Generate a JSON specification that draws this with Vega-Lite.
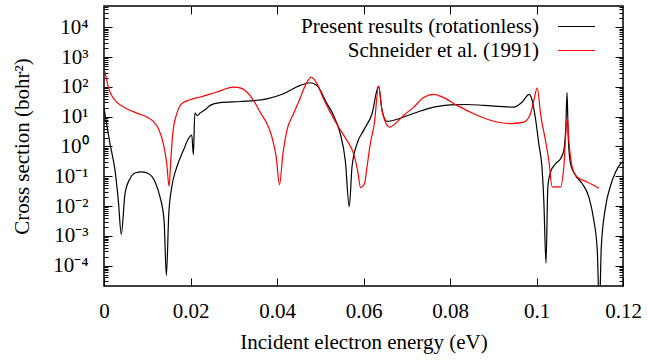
{
  "$schema": "https://vega.github.io/schema/vega-lite/v6.json",
  "width": 519,
  "height": 280,
  "autosize": {"type": "none"},
  "padding": {"left": 104, "top": 6, "right": 25, "bottom": 76},
  "background": "white",
  "config": {
    "view": {"stroke": "#000", "strokeWidth": 1.5},
    "font": "Liberation Serif",
    "axis": {
      "labelFont": "Liberation Serif",
      "titleFont": "Liberation Serif",
      "labelColor": "#000",
      "titleColor": "#000",
      "domain": false,
      "tickColor": "#000",
      "tickWidth": 1,
      "grid": false,
      "titleFontWeight": "normal",
      "labelFontSize": 21,
      "titleFontSize": 21
    },
    "legend": {"labelFont": "Liberation Serif", "labelColor": "#000"}
  },
  "datasets": {
    "curves": [
      {"series": "a", "energy": 0.0, "sigma": 19.05},
      {"series": "a", "energy": 0.00139, "sigma": 1.23},
      {"series": "a", "energy": 0.00255, "sigma": 0.158},
      {"series": "a", "energy": 0.00331, "sigma": 0.0155},
      {"series": "a", "energy": 0.004, "sigma": 0.00112},
      {"series": "a", "energy": 0.00486, "sigma": 0.0263},
      {"series": "a", "energy": 0.00602, "sigma": 0.0832},
      {"series": "a", "energy": 0.00718, "sigma": 0.129},
      {"series": "a", "energy": 0.00873, "sigma": 0.141},
      {"series": "a", "energy": 0.01025, "sigma": 0.123},
      {"series": "a", "energy": 0.01181, "sigma": 0.0646},
      {"series": "a", "energy": 0.01296, "sigma": 0.02},
      {"series": "a", "energy": 0.01389, "sigma": 0.00331},
      {"series": "a", "energy": 0.01442, "sigma": 0.0000468},
      {"series": "a", "energy": 0.01498, "sigma": 0.0055},
      {"series": "a", "energy": 0.01567, "sigma": 0.0437},
      {"series": "a", "energy": 0.01683, "sigma": 0.204},
      {"series": "a", "energy": 0.01836, "sigma": 0.741},
      {"series": "a", "energy": 0.01951, "sigma": 1.82},
      {"series": "a", "energy": 0.0203, "sigma": 2.4},
      {"series": "a", "energy": 0.02067, "sigma": 0.525},
      {"series": "a", "energy": 0.021, "sigma": 13.2},
      {"series": "a", "energy": 0.02153, "sigma": 11.0},
      {"series": "a", "energy": 0.02222, "sigma": 13.2},
      {"series": "a", "energy": 0.02338, "sigma": 17.0},
      {"series": "a", "energy": 0.02454, "sigma": 24.0},
      {"series": "a", "energy": 0.02685, "sigma": 29.5},
      {"series": "a", "energy": 0.03148, "sigma": 32.4},
      {"series": "a", "energy": 0.03766, "sigma": 39.8},
      {"series": "a", "energy": 0.0415, "sigma": 58.9},
      {"series": "a", "energy": 0.04537, "sigma": 112},
      {"series": "a", "energy": 0.04769, "sigma": 138},
      {"series": "a", "energy": 0.04924, "sigma": 112},
      {"series": "a", "energy": 0.05155, "sigma": 27.5},
      {"series": "a", "energy": 0.05308, "sigma": 11.0},
      {"series": "a", "energy": 0.05463, "sigma": 2.69},
      {"series": "a", "energy": 0.05579, "sigma": 0.339},
      {"series": "a", "energy": 0.05671, "sigma": 0.00955},
      {"series": "a", "energy": 0.05734, "sigma": 0.204},
      {"series": "a", "energy": 0.0585, "sigma": 1.23},
      {"series": "a", "energy": 0.06002, "sigma": 3.47},
      {"series": "a", "energy": 0.06197, "sigma": 12.6},
      {"series": "a", "energy": 0.0635, "sigma": 107},
      {"series": "a", "energy": 0.06428, "sigma": 16.2},
      {"series": "a", "energy": 0.06544, "sigma": 6.92},
      {"series": "a", "energy": 0.06697, "sigma": 7.59},
      {"series": "a", "energy": 0.06928, "sigma": 9.77},
      {"series": "a", "energy": 0.07238, "sigma": 14.1},
      {"series": "a", "energy": 0.07623, "sigma": 20.9},
      {"series": "a", "energy": 0.08009, "sigma": 25.1},
      {"series": "a", "energy": 0.08396, "sigma": 25.7},
      {"series": "a", "energy": 0.0878, "sigma": 24.0},
      {"series": "a", "energy": 0.09475, "sigma": 20.9},
      {"series": "a", "energy": 0.09669, "sigma": 30.9},
      {"series": "a", "energy": 0.09831, "sigma": 56.2},
      {"series": "a", "energy": 0.099, "sigma": 35.5},
      {"series": "a", "energy": 0.09977, "sigma": 8.51},
      {"series": "a", "energy": 0.10053, "sigma": 1.23},
      {"series": "a", "energy": 0.10132, "sigma": 0.158},
      {"series": "a", "energy": 0.10169, "sigma": 0.0155},
      {"series": "a", "energy": 0.1022, "sigma": 0.00012},
      {"series": "a", "energy": 0.10262, "sigma": 0.0437},
      {"series": "a", "energy": 0.10324, "sigma": 0.138},
      {"series": "a", "energy": 0.1044, "sigma": 0.263},
      {"series": "a", "energy": 0.10556, "sigma": 0.389},
      {"series": "a", "energy": 0.10632, "sigma": 0.741},
      {"series": "a", "energy": 0.10678, "sigma": 4.47},
      {"series": "a", "energy": 0.10706, "sigma": 64.6},
      {"series": "a", "energy": 0.10734, "sigma": 2.09},
      {"series": "a", "energy": 0.10787, "sigma": 0.263},
      {"series": "a", "energy": 0.10903, "sigma": 0.107},
      {"series": "a", "energy": 0.11058, "sigma": 0.0562},
      {"series": "a", "energy": 0.11211, "sigma": 0.02},
      {"series": "a", "energy": 0.11326, "sigma": 0.00331},
      {"series": "a", "energy": 0.11405, "sigma": 0.000324},
      {"series": "a", "energy": 0.11454, "sigma": 0.00000316},
      {"series": "a", "energy": 0.11498, "sigma": 0.000417},
      {"series": "a", "energy": 0.11597, "sigma": 0.00933},
      {"series": "a", "energy": 0.11713, "sigma": 0.049},
      {"series": "a", "energy": 0.11829, "sigma": 0.138},
      {"series": "a", "energy": 0.11944, "sigma": 0.263},
      {"series": "a", "energy": 0.12, "sigma": 0.316},
      {"series": "b", "energy": 0.00023, "sigma": 331},
      {"series": "b", "energy": 0.001, "sigma": 97.7},
      {"series": "b", "energy": 0.00178, "sigma": 51.3},
      {"series": "b", "energy": 0.00294, "sigma": 30.9},
      {"series": "b", "energy": 0.00525, "sigma": 18.6},
      {"series": "b", "energy": 0.00757, "sigma": 13.2},
      {"series": "b", "energy": 0.00988, "sigma": 9.77},
      {"series": "b", "energy": 0.01141, "sigma": 6.92},
      {"series": "b", "energy": 0.01257, "sigma": 3.98},
      {"series": "b", "energy": 0.01373, "sigma": 1.23},
      {"series": "b", "energy": 0.01451, "sigma": 0.263},
      {"series": "b", "energy": 0.01505, "sigma": 0.0457},
      {"series": "b", "energy": 0.01544, "sigma": 0.339},
      {"series": "b", "energy": 0.0159, "sigma": 2.69},
      {"series": "b", "energy": 0.01683, "sigma": 12.6},
      {"series": "b", "energy": 0.01799, "sigma": 27.5},
      {"series": "b", "energy": 0.01991, "sigma": 37.2},
      {"series": "b", "energy": 0.02222, "sigma": 45.7},
      {"series": "b", "energy": 0.02609, "sigma": 67.6},
      {"series": "b", "energy": 0.02993, "sigma": 97.7},
      {"series": "b", "energy": 0.03148, "sigma": 93.3},
      {"series": "b", "energy": 0.03303, "sigma": 67.6},
      {"series": "b", "energy": 0.03456, "sigma": 35.5},
      {"series": "b", "energy": 0.03611, "sigma": 14.1},
      {"series": "b", "energy": 0.03766, "sigma": 5.89},
      {"series": "b", "energy": 0.03882, "sigma": 2.09},
      {"series": "b", "energy": 0.03981, "sigma": 0.447},
      {"series": "b", "energy": 0.04058, "sigma": 0.0525},
      {"series": "b", "energy": 0.04137, "sigma": 0.575},
      {"series": "b", "energy": 0.04229, "sigma": 3.47},
      {"series": "b", "energy": 0.04382, "sigma": 12.6},
      {"series": "b", "energy": 0.04537, "sigma": 42.7},
      {"series": "b", "energy": 0.04653, "sigma": 112},
      {"series": "b", "energy": 0.04792, "sigma": 214},
      {"series": "b", "energy": 0.04924, "sigma": 129},
      {"series": "b", "energy": 0.05076, "sigma": 39.8},
      {"series": "b", "energy": 0.05231, "sigma": 14.1},
      {"series": "b", "energy": 0.05424, "sigma": 4.47},
      {"series": "b", "energy": 0.05618, "sigma": 1.58},
      {"series": "b", "energy": 0.05771, "sigma": 0.575},
      {"series": "b", "energy": 0.05863, "sigma": 0.158},
      {"series": "b", "energy": 0.05933, "sigma": 0.0417},
      {"series": "b", "energy": 0.06019, "sigma": 0.0537},
      {"series": "b", "energy": 0.06081, "sigma": 0.204},
      {"series": "b", "energy": 0.06157, "sigma": 1.23},
      {"series": "b", "energy": 0.0625, "sigma": 5.89},
      {"series": "b", "energy": 0.0635, "sigma": 105},
      {"series": "b", "energy": 0.06428, "sigma": 16.2},
      {"series": "b", "energy": 0.06505, "sigma": 6.61},
      {"series": "b", "energy": 0.06604, "sigma": 4.47},
      {"series": "b", "energy": 0.06736, "sigma": 5.89},
      {"series": "b", "energy": 0.06928, "sigma": 11.0},
      {"series": "b", "energy": 0.0716, "sigma": 20.9},
      {"series": "b", "energy": 0.07391, "sigma": 43.7},
      {"series": "b", "energy": 0.07623, "sigma": 56.2},
      {"series": "b", "energy": 0.07854, "sigma": 43.7},
      {"series": "b", "energy": 0.08164, "sigma": 24.0},
      {"series": "b", "energy": 0.08549, "sigma": 12.6},
      {"series": "b", "energy": 0.08935, "sigma": 7.59},
      {"series": "b", "energy": 0.09398, "sigma": 5.89},
      {"series": "b", "energy": 0.09706, "sigma": 6.61},
      {"series": "b", "energy": 0.09861, "sigma": 12.6},
      {"series": "b", "energy": 0.09938, "sigma": 35.5},
      {"series": "b", "energy": 0.10019, "sigma": 93.3},
      {"series": "b", "energy": 0.10093, "sigma": 12.6},
      {"series": "b", "energy": 0.10208, "sigma": 1.58},
      {"series": "b", "energy": 0.10285, "sigma": 0.339},
      {"series": "b", "energy": 0.10363, "sigma": 0.0437},
      {"series": "b", "energy": 0.10556, "sigma": 0.0437},
      {"series": "b", "energy": 0.10632, "sigma": 0.204},
      {"series": "b", "energy": 0.10711, "sigma": 9.55},
      {"series": "b", "energy": 0.10748, "sigma": 1.58},
      {"series": "b", "energy": 0.10826, "sigma": 0.204},
      {"series": "b", "energy": 0.10942, "sigma": 0.0933},
      {"series": "b", "energy": 0.11174, "sigma": 0.0646},
      {"series": "b", "energy": 0.11442, "sigma": 0.0398}
    ]
  },
  "data": {"name": "curves"},
  "layer": [
    {
      "mark": {"type": "line", "clip": true, "interpolate": "monotone", "strokeWidth": 1.2},
      "encoding": {
        "x": {
          "field": "energy", "type": "quantitative",
          "scale": {"domain": [0, 0.12], "nice": false, "zero": false},
          "axis": {"orient": "bottom", "values": [0, 0.02, 0.04, 0.06, 0.08, 0.1, 0.12],
                   "labelExpr": "'' + round(datum.value * 100) / 100",
                   "labelFlush": false, "labelOverlap": false, "labelBound": false,
                   "tickSize": -8, "labelPadding": 22, "title": "Incident electron energy (eV)", "titlePadding": 10}
        },
        "y": {
          "field": "sigma", "type": "quantitative",
          "scale": {"type": "log", "domain": [0.0000207, 52000], "nice": false},
          "axis": {"orient": "left",
                   "values": [0.00003, 0.00004, 0.00005, 0.00006, 0.00007, 0.00008, 0.00009,
                              0.0001, 0.0002, 0.0003, 0.0004, 0.0005, 0.0006, 0.0007, 0.0008, 0.0009,
                              0.001, 0.002, 0.003, 0.004, 0.005, 0.006, 0.007, 0.008, 0.009,
                              0.01, 0.02, 0.03, 0.04, 0.05, 0.06, 0.07, 0.08, 0.09,
                              0.1, 0.2, 0.3, 0.4, 0.5, 0.6, 0.7, 0.8, 0.9,
                              1, 2, 3, 4, 5, 6, 7, 8, 9,
                              10, 20, 30, 40, 50, 60, 70, 80, 90,
                              100, 200, 300, 400, 500, 600, 700, 800, 900,
                              1000, 2000, 3000, 4000, 5000, 6000, 7000, 8000, 9000,
                              10000, 20000, 30000, 40000, 50000],
                   "labelOverlap": false, "labelFlush": false,
                   "labelExpr": "abs(log(datum.value)/LN10 - round(log(datum.value)/LN10)) > 0.001 ? '' : '10' + (round(log(datum.value)/LN10) < 0 ? '⁻' : '') + ['⁰','¹','²','³','⁴'][abs(round(log(datum.value)/LN10))]",
                   "tickSize": {"condition": {"test": "abs(log(datum.value)/LN10 - round(log(datum.value)/LN10)) < 0.001", "value": -8}, "value": -4},
                   "labelPadding": 24, "title": "Cross section (bohr²)", "titlePadding": 20}
        },
        "color": {
          "field": "series", "type": "nominal",
          "scale": {"domain": ["a", "b"], "range": ["#000000", "#ff0000"]},
          "legend": {
            "orient": "none", "legendX": 462, "legendY": 10, "title": null, "padding": 0,
            "symbolType": "M-2,0H2", "symbolSize": 342, "symbolStrokeWidth": 1.2,
            "labelFontSize": 21, "labelAlign": "right", "labelOffset": -48, "labelLimit": 0,
            "rowPadding": 2,
            "labelExpr": "datum.label == 'a' ? 'Present results (rotationless)' : 'Schneider et al. (1991)'"
          }
        }
      }
    },
    {
      "mark": {"type": "point", "opacity": 0, "clip": true},
      "encoding": {
        "x": {"field": "energy", "type": "quantitative",
              "axis": {"orient": "top", "values": [0.02, 0.04, 0.06, 0.08, 0.1], "labels": false, "tickSize": -8, "title": null}},
        "y": {"field": "sigma", "type": "quantitative",
              "axis": {"orient": "right", "labels": false, "title": null,
                       "values": [0.00003, 0.00004, 0.00005, 0.00006, 0.00007, 0.00008, 0.00009,
                              0.0001, 0.0002, 0.0003, 0.0004, 0.0005, 0.0006, 0.0007, 0.0008, 0.0009,
                              0.001, 0.002, 0.003, 0.004, 0.005, 0.006, 0.007, 0.008, 0.009,
                              0.01, 0.02, 0.03, 0.04, 0.05, 0.06, 0.07, 0.08, 0.09,
                              0.1, 0.2, 0.3, 0.4, 0.5, 0.6, 0.7, 0.8, 0.9,
                              1, 2, 3, 4, 5, 6, 7, 8, 9,
                              10, 20, 30, 40, 50, 60, 70, 80, 90,
                              100, 200, 300, 400, 500, 600, 700, 800, 900,
                              1000, 2000, 3000, 4000, 5000, 6000, 7000, 8000, 9000,
                              10000, 20000, 30000, 40000, 50000],
                       "tickSize": {"condition": {"test": "abs(log(datum.value)/LN10 - round(log(datum.value)/LN10)) < 0.001", "value": -8}, "value": -4}}}
      }
    }
  ],
  "resolve": {"axis": {"x": "independent", "y": "independent"}}
}
